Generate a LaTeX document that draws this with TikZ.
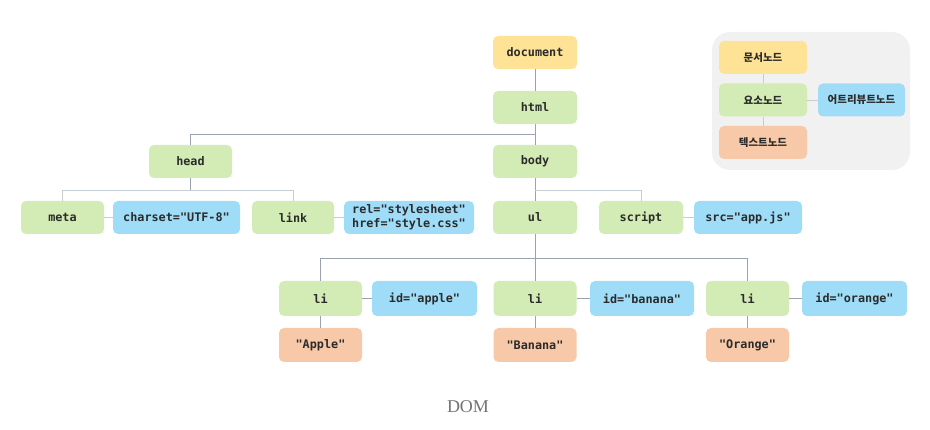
\documentclass[tikz,border=0pt]{standalone}
\usepackage{fontspec}
\setmonofont{DejaVu Sans Mono}
\newfontfamily\kr{Noto Sans CJK KR}
\newfontfamily\capfont{Liberation Serif}
\definecolor{cdoc}{HTML}{FEE295}
\definecolor{cel}{HTML}{D3EBB4}
\definecolor{cat}{HTML}{9FDCF8}
\definecolor{ctx}{HTML}{F8C9A8}
\definecolor{cline}{HTML}{98A3AF}
\definecolor{clight}{HTML}{C5CCD3}
\definecolor{ctext}{HTML}{2B2B2B}
\definecolor{clegbg}{HTML}{F1F1F1}
\tikzset{
  box/.style={rounded corners=5pt, minimum height=33pt, inner sep=0pt,
    font=\ttfamily\bfseries\fontsize{11.8}{14}\selectfont, text=ctext},
  docnode/.style={box, fill=cdoc},
  elnode/.style={box, fill=cel},
  atnode/.style={box, fill=cat},
  txnode/.style={box, fill=ctx},
  legnode/.style={rounded corners=5pt, minimum height=33pt, minimum width=88pt, inner sep=0pt,
    font=\kr\bfseries\fontsize{10.5}{12}\selectfont, text=ctext},
  conn/.style={draw=cline, line width=0.9pt},
  connl/.style={draw=clight, line width=0.9pt},
}
\begin{document}
\begin{tikzpicture}[x=1pt,y=-1pt]
\useasboundingbox (0,0) rectangle (930,430);
% legend
\fill[clegbg, rounded corners=18pt] (712,32) rectangle (910,170);
\node[legnode, fill=cdoc] (lgdoc) at (763,57.5) {문서노드};
\node[legnode, fill=cel] (lgel) at (763,100) {요소노드};
\node[legnode, fill=ctx] (lgtx) at (763,142.5) {텍스트노드};
\node[legnode, fill=cat, minimum width=87pt] (lgat) at (861.5,100) {어트리뷰트노드};
\draw[connl] (lgdoc.south) -- (lgel.north);
\draw[connl] (lgel.south) -- (lgtx.north);
\draw[connl] (lgel.east) -- (lgat.west);
% tree nodes
\node[docnode, minimum width=84pt] (doc) at (535,52.5) {document};
\node[elnode, minimum width=84pt] (html) at (535,107.5) {html};
\node[elnode, minimum width=83pt] (head) at (190.5,161.5) {head};
\node[elnode, minimum width=84pt] (body) at (535,161.5) {body};
\node[elnode, minimum width=83pt] (meta) at (62.5,217.5) {meta};
\node[atnode, minimum width=127pt] (charset) at (176.5,217.5) {charset="UTF-8"};
\node[elnode, minimum width=82pt] (link) at (293,217.5) {link};
\node[atnode, minimum width=130pt, align=left] (rel) at (409,217.5) {rel="stylesheet"\\href="style.css"};
\node[elnode, minimum width=84pt] (ul) at (535,217.5) {ul};
\node[elnode, minimum width=84pt] (script) at (641,217.5) {script};
\node[atnode, minimum width=108pt] (src) at (748,217.5) {src="app.js"};
\node[elnode, minimum width=83pt, minimum height=35pt] (li1) at (320.5,298.5) {li};
\node[atnode, minimum width=105pt, minimum height=35pt] (id1) at (424.5,298.5) {id="apple"};
\node[txnode, minimum width=83pt, minimum height=34pt] (t1) at (320.5,345) {"Apple"};
\node[elnode, minimum width=83pt, minimum height=35pt] (li2) at (535,298.5) {li};
\node[atnode, minimum width=104pt, minimum height=35pt] (id2) at (642,298.5) {id="banana"};
\node[txnode, minimum width=83pt, minimum height=34pt] (t2) at (535,345) {"Banana"};
\node[elnode, minimum width=83pt, minimum height=35pt] (li3) at (747.5,298.5) {li};
\node[atnode, minimum width=105pt, minimum height=35pt] (id3) at (854.5,298.5) {id="orange"};
\node[txnode, minimum width=83pt, minimum height=34pt] (t3) at (747.5,345) {"Orange"};
% junctions
\coordinate (jhtml) at (535,134);
\coordinate (jhead) at (190.5,190);
\coordinate (jbody) at (535,190);
\coordinate (jul) at (535,258);
% connectors
\draw[conn] (doc.south) -- (html.north);
\draw[conn] (html.south) -- (body.north);
\draw[conn] (jhtml) -| (head.north);
\draw[conn] (head.south) -- (jhead);
\draw[connl] (jhead) -| (meta.north);
\draw[connl] (jhead) -| (link.north);
\draw[connl] (meta.east) -- (charset.west);
\draw[connl] (link.east) -- (rel.west);
\draw[conn] (body.south) -- (ul.north);
\draw[connl] (jbody) -| (script.north);
\draw[connl] (script.east) -- (src.west);
\draw[conn] (ul.south) -- (li2.north);
\draw[conn] (jul) -| (li1.north);
\draw[conn] (jul) -| (li3.north);
\draw[conn] (li1.east) -- (id1.west);
\draw[conn] (li2.east) -- (id2.west);
\draw[conn] (li3.east) -- (id3.west);
\draw[conn] (li1.south) -- (t1.north);
\draw[conn] (li2.south) -- (t2.north);
\draw[conn] (li3.south) -- (t3.north);
% caption
\node[font=\capfont\fontsize{18}{20}\selectfont, text=black!55] (cap) at (468,407) {DOM};
\end{tikzpicture}
\end{document}
